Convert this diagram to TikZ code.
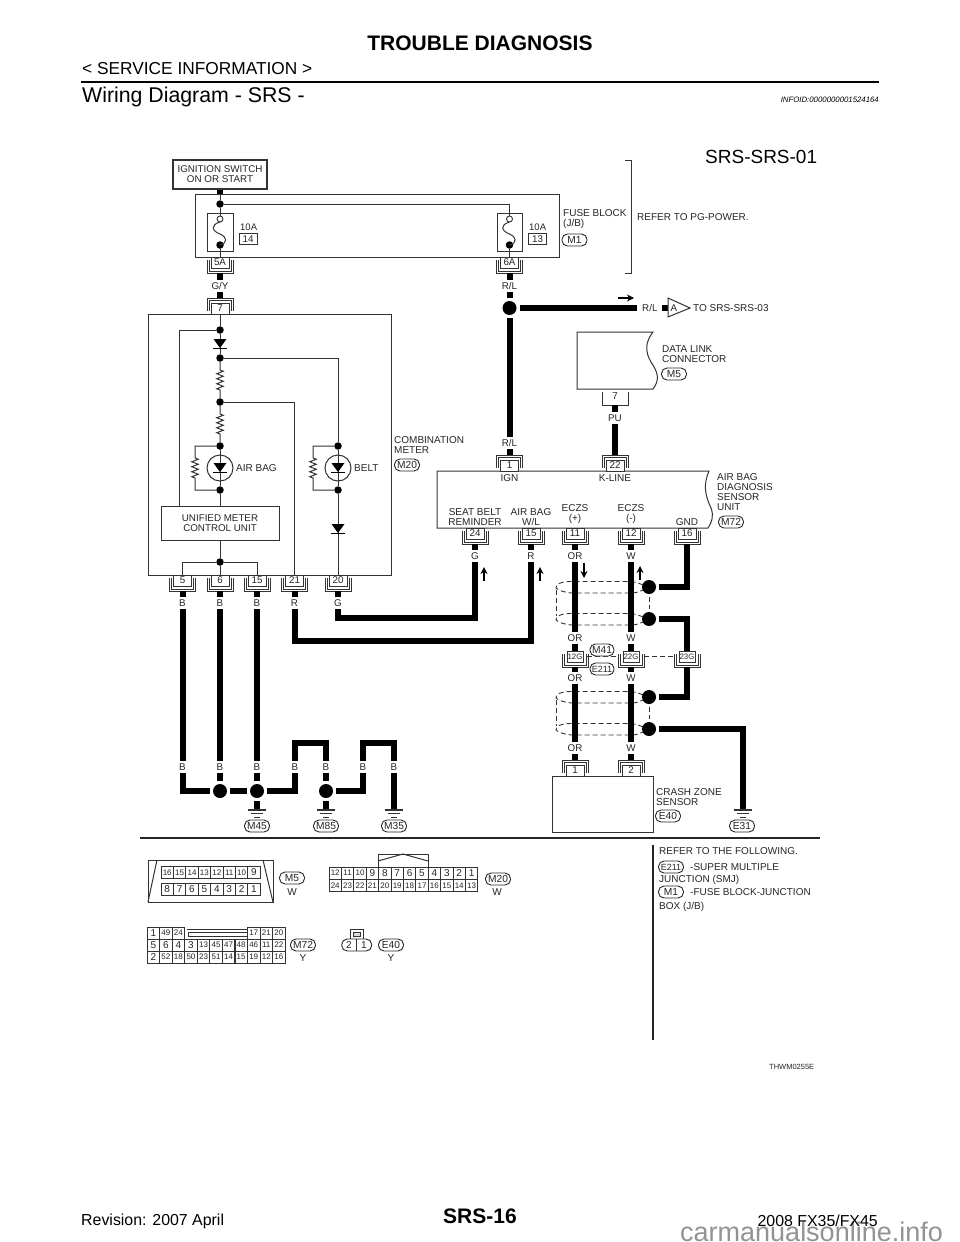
\documentclass[tikz,border=0pt]{standalone}
\usepackage{fontspec}
\setmainfont{Liberation Sans}
\usepackage{tikz}
\usetikzlibrary{arrows.meta,positioning,calc,decorations.pathmorphing}

\newcommand{\fs}[1]{\fontsize{#1}{#1}\selectfont}

\tikzset{
  ln/.style={line width=1pt, draw=black!80},
  wire/.style={line width=6pt, draw=black, line join=miter},
  hair/.style={line width=0.9pt, draw=black!80},
  shield/.style={line width=0.9pt, draw=black!80, dash pattern=on 5pt off 3pt},
  zz/.style={decoration={zigzag, amplitude=3.2pt, segment length=5pt}},
  txt/.style={anchor=west, inner sep=0pt, align=left, text=black!85, font=\fontsize{10}{10}\selectfont},
  boxtxt/.style={draw=black!80, line width=1pt, inner sep=0pt, align=center, text=black!85, font=\fontsize{9.8}{10}\selectfont},
  wlabel/.style={fill=white, inner sep=0pt, minimum height=12pt, text=black!85, font=\fontsize{9.8}{9.8}\selectfont},
  pinbox/.style={draw=black!80, line width=0.9pt, fill=white, inner sep=0pt, minimum width=18pt, minimum height=11pt, text=black!85, font=\fontsize{9.8}{9.8}\selectfont},
  tag/.style={draw=black!85, line width=0.9pt, rounded corners=5.5pt, inner sep=0pt, minimum width=25pt, minimum height=12pt, fill=white, text=black!85, font=\fontsize{10.2}{10.2}\selectfont},
  dot/.style={circle, fill=black, inner sep=0pt, minimum size=7.5pt},
  opendot/.style={circle, draw=black!80, line width=0.9pt, fill=white, inner sep=0pt, minimum size=6pt},
  bigdot/.style={circle, fill=black, inner sep=0pt, minimum size=14pt, outer sep=3pt},
  lamp/.style={circle, draw=black!80, line width=1pt, inner sep=0pt, minimum size=26pt},
  cell/.style={draw=black!80, line width=0.8pt, inner sep=0pt, minimum width=12.4pt, minimum height=12.2pt, text=black!85},
}

% connector under a box, top edge at y
\newcommand{\pinU}[4]{
  \draw[hair] (#2-13,#3+3) -- (#2-13,#3+16) -- (#2+13,#3+16) -- (#2+13,#3+3);
  \draw[hair] (#2-11,#3+3) -- (#2-11,#3+14) -- (#2+11,#3+14) -- (#2+11,#3+3);
  \node[pinbox] (#1) at (#2,#3+5.5) {#4};
  \coordinate (#1w) at (#2,#3+16);
}
% connector on top of a box, bottom edge at y
\newcommand{\pinT}[4]{
  \draw[hair] (#2-13,#3-3) -- (#2-13,#3-16) -- (#2+13,#3-16) -- (#2+13,#3-3);
  \draw[hair] (#2-11,#3-3) -- (#2-11,#3-14) -- (#2+11,#3-14) -- (#2+11,#3-3);
  \node[pinbox] (#1) at (#2,#3-5.5) {#4};
  \coordinate (#1w) at (#2,#3-16);
}
\newcommand{\diodeat}[2]{
  \fill[black] (#1-6.5,#2-5) -- (#1+6.5,#2-5) -- (#1,#2+4) -- cycle;
  \draw[line width=1.2pt] (#1-7,#2+4.6) -- (#1+7,#2+4.6);
}
\newcommand{\fuselink}[1]{
  \draw[ln] (#1,222) .. controls (#1-10,225) and (#1-8,231) .. (#1,234) .. controls (#1+7,237) and (#1+8,243) .. (#1,245);
}
\newcommand{\groundat}[2]{
  \draw[hair, line width=1.2pt] (#1-9,#2) -- (#1+9,#2);
  \draw[hair] (#1-6,#2+3.5) -- (#1+6,#2+3.5);
  \draw[hair] (#1-3,#2+7) -- (#1+3,#2+7);
}
\newcommand{\shieldpair}[1]{
  \draw[shield] (643,#1-2) .. controls (636,#1-5) .. (625,#1-5.5) -- (570,#1-5.5)
    .. controls (560,#1-5) and (556,#1-3) .. (556,#1+1)
    .. controls (558,#1+3) and (564,#1+5.5) .. (572,#1+6) -- (625,#1+6) .. controls (636,#1+6) .. (643,#1+3);
}
% number sized by its digits, as the connector faces print them
\newcommand{\cellnum}[1]{\ifnum#1<10 \fs{10}\else\fs{8}\fi #1}

\begin{document}
\begin{tikzpicture}[x=1pt,y=-1pt]
  \fill[white] (0,0) rectangle (960,1242);
  \useasboundingbox (0,0) rectangle (960,1242);

  % Page header
  \node[inner sep=0pt, font=\bfseries\fs{21}] (title) at (480,43) {TROUBLE DIAGNOSIS};
  \node[anchor=west, inner sep=0pt, font=\fs{17.3}] (service) at (82,69) {< SERVICE INFORMATION >};
  \draw[line width=2.6pt] (81,82) -- (879,82);
  \node[anchor=west, inner sep=0pt, font=\fs{21.3}] (section) at (82,97) {Wiring Diagram - SRS -};
  \node[anchor=east, inner sep=0pt, font=\itshape\fs{7.8}] (infoid) at (879,100) {INFOID:0000000001524164};
  \node[anchor=west, inner sep=0pt, font=\fs{19}] (srsid) at (705,157) {SRS-SRS-01};

  % Ignition and fuse block
  \node[boxtxt, minimum width=94pt, minimum height=29pt, line width=1.2pt] (ign) at (220,174.5) {IGNITION SWITCH\\ON OR START};
  \draw[ln] (195,194) rectangle (559,257);
  \coordinate (fbtop) at (220,194);
  \draw[wire] (ign.south) -- (fbtop);
  \node[dot] (dotfb) at (220,204) {};
  \node[boxtxt, minimum width=26pt, minimum height=38pt] (fuse14) at (220,232) {};
  \node[boxtxt, minimum width=25pt, minimum height=38pt] (fuse13) at (509.5,232) {};
  \node[opendot] (opena) at (220,219) {};
  \node[opendot] (openb) at (509.5,219) {};
  \node[dot] (dota) at (220,245) {};
  \node[dot] (dotb) at (509.5,245) {};
  \fuselink{220}
  \fuselink{509.5}
  \draw[ln] (fbtop) -- (dotfb) -- (opena);
  \draw[ln] (dotfb) -| (openb);
  \node[txt, font=\fs{9.5}] (amp14) at (240,227) {10A};
  \node[txt, font=\fs{9.5}] (amp13) at (529,227) {10A};
  \node[pinbox] (f14) at (248,239) {14};
  \node[pinbox] (f13) at (537.5,239) {13};
  \node[txt] (fbtxt) at (563,219) {FUSE BLOCK\\(J/B)};
  \node[tag] (tagM1) at (574.5,240) {M1};
  \draw[ln] (625,160) -- (631,160) -- (631,273) -- (625,273);
  \node[txt] (pgpower) at (637,217) {REFER TO PG-POWER.};
  \pinU{pinA}{220}{257}{5A}
  \pinU{pinB}{509.5}{257}{6A}
  \draw[ln] (dota) -- (pinA.north);
  \draw[ln] (dotb) -- (pinB.north);

  % Combination meter
  \draw[ln] (148,314) rectangle (391,575);
  \pinT{pinM}{220}{314}{7}
  \pinU{pinF}{182.5}{575}{5}
  \pinU{pinG}{220}{575}{6}
  \pinU{pinH}{257}{575}{15}
  \pinU{pinI}{294.5}{575}{21}
  \pinU{pinJ}{338}{575}{20}
  \node[dot] (dotA) at (220,330) {};
  \node[dot] (dotB) at (220,358) {};
  \node[dot] (dotC) at (220,402) {};
  \node[dot] (dotD) at (220,446) {};
  \node[dot] (dotE) at (220,490) {};
  \node[dot] (dotK) at (338,446) {};
  \node[dot] (dotL) at (338,490) {};
  \node[dot] (dotH) at (220,562) {};
  \node[boxtxt, minimum width=118pt, minimum height=34pt] (umcu) at (220,523) {UNIFIED METER\\CONTROL UNIT};
  \coordinate (umcuin) at (179,506);
  \draw[ln] (pinM.south) -- (dotA) -- (dotB);
  \draw[ln] (dotA) -| (umcuin);
  \draw[ln] (dotB) -- (220,370) decorate[zz] {-- (220,391)} -- (dotC);
  \draw[ln] (dotC) -- (220,414) decorate[zz] {-- (220,435)} -- (dotD);
  \draw[ln] (dotC) -| (pinI.north);
  \draw[ln] (dotB) -| (dotK);
  \draw[ln] (dotD) -- (dotE) -- (umcu.north);
  \draw[ln] (dotK) -- (dotL) -- (pinJ.north);
  \draw[ln] (dotD) -| (195,458) decorate[zz] {-- (195,478)} |- (dotE);
  \draw[ln] (dotK) -| (313,458) decorate[zz] {-- (313,478)} |- (dotL);
  \node[lamp] (lampA) at (220,468) {};
  \node[lamp] (lampB) at (338,468) {};
  \diodeat{220}{344}
  \diodeat{220}{468}
  \diodeat{338}{468}
  \diodeat{338}{529}
  \node[txt] (airbag) at (236,468) {AIR BAG};
  \node[txt] (belt) at (354,468) {BELT};
  \draw[ln] (umcu.south) -- (dotH) -- (pinG.north);
  \draw[ln] (dotH) -| (pinF.north);
  \draw[ln] (dotH) -| (pinH.north);
  \node[txt] (cmtxt) at (394,445) {COMBINATION\\METER};
  \node[tag] (tagM20) at (407,465) {M20};

  % R/L feed and data link
  \node[bigdot] (dotRL) at (509.5,308) {};
  \coordinate (rlend) at (637,308);
  \coordinate (flagin) at (662,308);
  \coordinate (flag) at (668,308);
  \draw[wire] (pinBw) -- (dotRL);
  \draw[wire] (dotRL) -- (rlend);
  \draw[wire] (flagin) -- (flag);
  \draw[-{Stealth[length=7pt,width=7pt]}, line width=1.2pt] (618,298) -- (634,298);
  \draw[ln, fill=white] (668,298) -- (690,308) -- (668,317) -- cycle;
  \node[inner sep=0pt, text=black!85, font=\fs{9.8}] (flagA) at (674,308) {A};
  \node[txt, font=\fs{9.8}] (rlout) at (642,308) {R/L};
  \node[txt] (tosrs) at (693,308) {TO SRS-SRS-03};
  \draw[ln] (577,332) -- (653,332) .. controls (645,342) and (645,352) .. (651,362) .. controls (658,372) and (660,380) .. (653,389) -- (577,389) -- cycle;
  \node[txt] (dlc) at (662,354) {DATA LINK\\CONNECTOR};
  \node[tag] (tagM5) at (674,374) {M5};
  \draw[hair] (602,392) -- (602,405) -- (628,405) -- (628,392);
  \node[inner sep=0pt, text=black!85, font=\fs{9.8}] (pinDL) at (615,396) {7};
  \coordinate (pinDLw) at (615,405);

  % Air bag diagnosis sensor unit
  \draw[ln] (437,471) -- (709,471) .. controls (703,485) and (705,495) .. (711,508) .. controls (714,516) and (712,522) .. (708,528) -- (437,528) -- cycle;
  \pinT{pinN}{509.5}{471}{1}
  \pinT{pinO}{615}{471}{22}
  \pinU{pinP}{475}{528}{24}
  \pinU{pinQ}{531}{528}{15}
  \pinU{pinR}{575}{528}{11}
  \pinU{pinS}{631}{528}{12}
  \pinU{pinT}{687}{528}{16}
  \node[txt, anchor=center] (ignt) at (509.5,478) {IGN};
  \node[txt, anchor=center] (kline) at (615,478) {K-LINE};
  \node[txt, anchor=center, align=center] (seatbelt) at (475,517) {SEAT BELT\\REMINDER};
  \node[txt, anchor=center, align=center] (abwl) at (531,517) {AIR BAG\\W/L};
  \node[txt, anchor=center, align=center] (eczsp) at (575,514) {ECZS\\(+)};
  \node[txt, anchor=center, align=center] (eczsm) at (631,514) {ECZS\\(-)};
  \node[txt, anchor=center] (gnd) at (687,522) {GND};
  \node[txt] (abtxt) at (717,492) {AIR BAG\\DIAGNOSIS\\SENSOR\\UNIT};
  \node[tag] (tagM72) at (731,522) {M72};
  \draw[wire] (dotRL) -- (pinNw);
  \draw[wire] (pinDLw) -- (pinOw);

  % Twisted shields
  \shieldpair{587}
  \shieldpair{619}
  \shieldpair{697}
  \shieldpair{729}
  \draw[shield] (556,590) -- (556,616);
  \draw[shield] (556,700) -- (556,726);

  % Crash zone sensor
  \draw[ln] (552,776) rectangle (653,832);
  \pinT{pinU}{575}{776}{1}
  \pinT{pinV}{631}{776}{2}
  \node[txt] (czs) at (656,797) {CRASH ZONE\\SENSOR};
  \node[tag] (tagE40) at (668,816) {E40};

  % Joint connectors
  \tikzset{pinbox/.append style={minimum width=16pt, font=\fs{7.8}}}
  \pinU{pinX}{575}{651}{12G}
  \pinU{pinY}{631}{651}{22G}
  \pinU{pinZ}{687}{651}{23G}
  \tikzset{pinbox/.append style={minimum width=18pt, font=\fs{9.8}}}
  \node[bigdot] (dotS) at (649,587) {};
  \node[bigdot] (dotW) at (649,619) {};
  \node[bigdot] (dotX) at (649,697) {};
  \node[bigdot] (dotY) at (649,729) {};
  \draw[shield] (dotS) -- (dotW);
  \draw[shield] (dotX) -- (dotY);
  \coordinate (gndE31) at (743,810);
  \draw[wire] (pinRw) -- (pinX.north);
  \draw[wire] (pinXw) -- (pinUw);
  \draw[wire] (pinSw) -- (pinY.north);
  \draw[wire] (pinYw) -- (pinVw);
  \draw[wire] (pinTw) |- (dotS);
  \draw[wire] (dotW) -| (pinZ.north);
  \draw[wire] (pinZw) |- (dotX);
  \draw[wire] (dotY) -| (gndE31);
  \groundat{743}{810}
  \node[tag] (tagE31) at (742,826) {E31};
  \draw[shield] ([xshift=4pt]pinX.east) -- ([xshift=-4pt]pinY.west);
  \draw[shield] ([xshift=5pt]pinY.east) -- ([xshift=-5pt]pinZ.west);
  \node[tag, minimum width=24pt] (tagM41) at (602,650) {M41};
  \node[tag, minimum width=24pt, font=\fs{9}] (tagE211) at (602,669) {E211};

  % Ground wiring
  \node[bigdot] (dotM) at (220,791) {};
  \node[bigdot] (dotN) at (257,791) {};
  \node[bigdot] (dotP) at (326,791) {};
  \coordinate (jmpa) at (295,743);
  \coordinate (jmpb) at (363,743);
  \coordinate (gndM45) at (257,810);
  \coordinate (gndM85) at (326,810);
  \coordinate (gndM35) at (394,810);
  \coordinate (jmpG) at (475,618);
  \coordinate (jmpR) at (531,641);
  \draw[wire] (pinFw) |- (dotM);
  \draw[wire] (pinGw) -- (dotM);
  \draw[wire] (pinHw) -- (dotN);
  \draw[wire] (dotM) -- (dotN);
  \draw[wire] (dotN) -| (jmpa) -| (dotP);
  \draw[wire] (dotP) -| (jmpb) -| (gndM35);
  \draw[wire] (dotN) -- (gndM45);
  \draw[wire] (dotP) -- (gndM85);
  \draw[wire] (pinJw) |- (jmpG) -- (pinPw);
  \draw[wire] (pinIw) |- (jmpR) -- (pinQw);
  \groundat{257}{810}
  \groundat{326}{810}
  \groundat{394}{810}
  \node[tag] (tagM45) at (257,826) {M45};
  \node[tag] (tagM85) at (326,826) {M85};
  \node[tag] (tagM35) at (394,826) {M35};

  % Wire colour labels
  \draw[wire] (pinAw) -- (pinMw);
  \foreach \wx/\wy/\wt [count=\wi] in {220/286/G\slash Y, 509.5/286/R\slash L, 615/418/PU, 509.5/443/R\slash L,
      182.5/603/B, 220/603/B, 257/603/B, 294.5/603/R, 338/603/G,
      475/556/G, 531/556/R, 575/556/OR, 631/556/W,
      575/638/OR, 631/638/W, 575/678/OR, 631/678/W, 575/748/OR, 631/748/W,
      182.5/767/B, 220/767/B, 257/767/B, 295/767/B, 326/767/B, 363/767/B, 394/767/B}
    \node[wlabel] (wl\wi) at (\wx,\wy) {\wt};

  % Signal arrows
  \foreach \ax/\ay/\az in {484/581/567, 540/581/567, 584/563/578, 640/580/566}
    \draw[-{Stealth[length=7pt,width=7pt]}, line width=1.2pt] (\ax,\ay) -- (\ax,\az);

  % Bottom rules
  \draw[line width=1.4pt, black!85] (140,838) -- (820,838);
  \draw[line width=1.6pt, black!85] (653,845) -- (653,1040);

  % Connector faces
  \draw[ln] (148,860) rectangle (273,902);
  \draw[ln] (157,860) -- (148,902);
  \draw[ln] (263,860) -- (273,902);
  \foreach \n [count=\i from 0] in {16,15,14,13,12,11,10,9}
    \node[cell] (mfa\i) at (167.2+12.4*\i,872.5) {\cellnum{\n}};
  \foreach \n [count=\i from 0] in {8,7,6,5,4,3,2,1}
    \node[cell] (mfb\i) at (167.2+12.4*\i,889) {\cellnum{\n}};
  \node[tag] (tagM5b) at (292,878) {M5};
  \node[txt, anchor=center] (colM5) at (292,892) {W};

  \foreach \n [count=\i from 0] in {12,11,10,9,8,7,6,5,4,3,2,1}
    \node[cell] (mta\i) at (335.2+12.4*\i,873) {\cellnum{\n}};
  \foreach \n [count=\i from 0] in {24,23,22,21,20,19,18,17,16,15,14,13}
    \node[cell] (mtb\i) at (335.2+12.4*\i,885.5) {\cellnum{\n}};
  \draw[ln] (378,867) -- (378,854) -- (428,854) -- (428,867);
  \draw[ln] (378,861) -- (403,854) -- (428,861);
  \node[tag] (tagM20b) at (498,879) {M20};
  \node[txt, anchor=center] (colM20) at (497,892) {W};

  \foreach \n [count=\i from 0] in {1,49,24}
    \node[cell] (msa\i) at (153.3+12.55*\i,933) {\cellnum{\n}};
  \foreach \n [count=\i from 8] in {17,21,20}
    \node[cell] (msa\i) at (153.3+12.55*\i,933) {\cellnum{\n}};
  \foreach \n [count=\i from 0] in {5,6,4,3,13,45,47,48,46,11,22}
    \node[cell] (msb\i) at (153.3+12.55*\i,945) {\cellnum{\n}};
  \foreach \n [count=\i from 0] in {2,52,18,50,23,51,14,15,19,12,16}
    \node[cell] (msc\i) at (153.3+12.55*\i,957) {\cellnum{\n}};
  \draw[ln] (187,929) -- (248,929);
  \draw[ln] (188,932) rectangle (247,936);
  \node[tag] (tagM72b) at (303,945) {M72};
  \node[txt, anchor=center] (colM72) at (303,958) {Y};

  \draw[ln] (350,939) -- (350,929) -- (363,929) -- (363,939);
  \draw[ln, fill=black!15] (353.5,932) rectangle (360,936);
  \node[draw=black!85, line width=0.9pt, rounded corners=5.5pt, inner sep=0pt, minimum width=30pt, minimum height=12pt] (plugE) at (356.7,945) {};
  \draw[ln] (356.7,939) -- (356.7,951);
  \node[inner sep=0pt, text=black!85, font=\fs{10}] (pin2E) at (349,945) {2};
  \node[inner sep=0pt, text=black!85, font=\fs{10}] (pin1E) at (364,945) {1};
  \node[tag] (tagE40b) at (391,945) {E40};
  \node[txt, anchor=center] (colE40) at (391,958) {Y};

  % Notes
  \node[txt] (refer) at (659,851) {REFER TO THE FOLLOWING.};
  \node[tag, font=\fs{9}] (noteE211) at (671,867) {E211};
  \node[txt] (smj) at (690,867) {-SUPER MULTIPLE};
  \node[txt] (smjb) at (659,880) {JUNCTION (SMJ)};
  \node[tag] (noteM1) at (671,892) {M1};
  \node[txt] (jb) at (690,892) {-FUSE BLOCK-JUNCTION};
  \node[txt] (jbb) at (659,907) {BOX (J/B)};
  \node[txt, font=\fs{7.5}] (thwm) at (769,1067) {THWM0255E};

  % Footer
  \node[anchor=base west, inner sep=0pt, text=gray!85, font=\fs{27}] (mark) at (680,1241) {carmanualsonline.info};
  \node[anchor=west, inner sep=0pt, font=\fs{15.9}] (rev) at (81,1221) {Revision: 2007 April};
  \node[inner sep=0pt, font=\bfseries\fs{21}] (pageno) at (480,1216) {SRS-16};
  \node[anchor=east, inner sep=0pt, font=\fs{15.9}] (model) at (878,1221) {2008 FX35/FX45};
\end{tikzpicture}
\end{document}
